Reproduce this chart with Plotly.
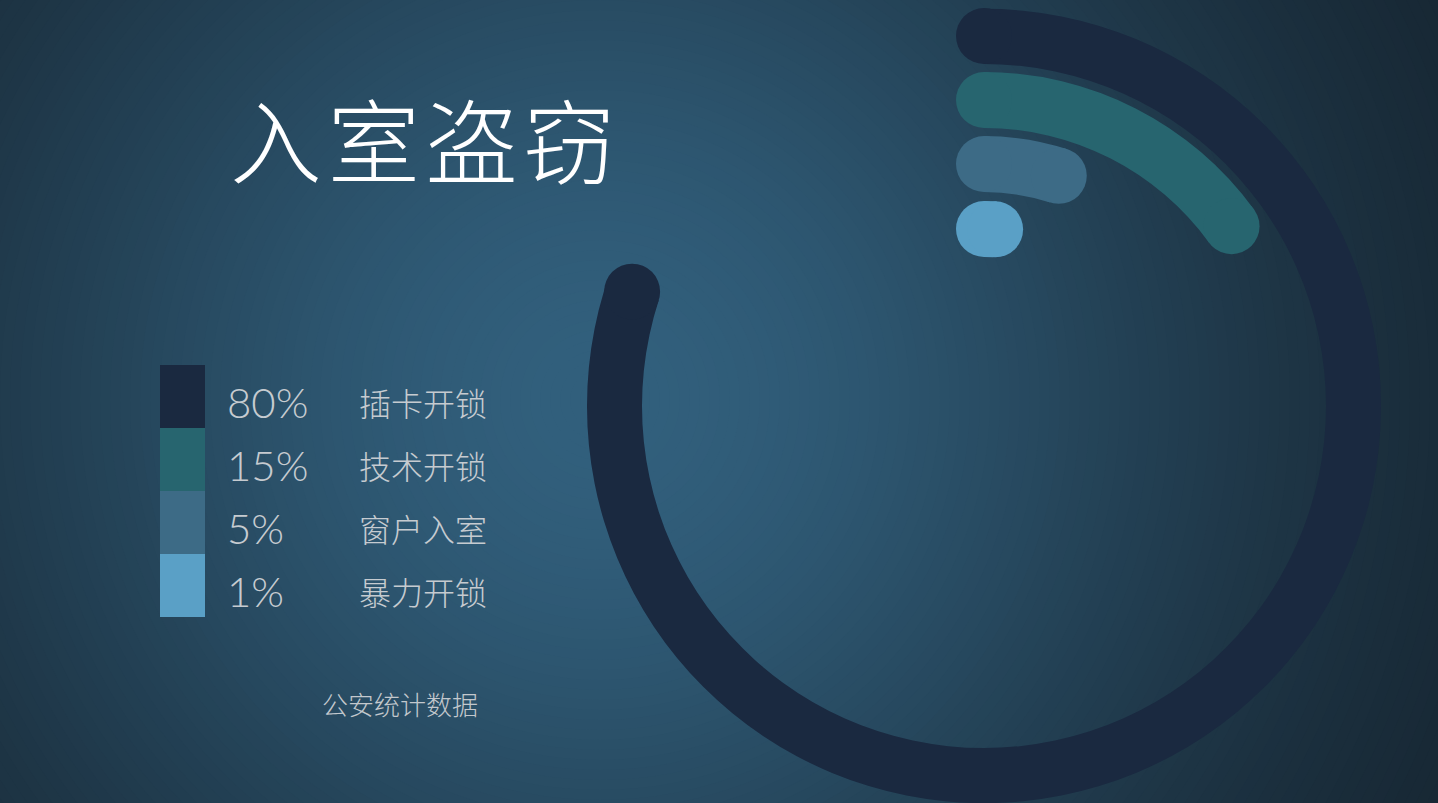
import numpy as np
import plotly.graph_objects as go

# data
percent = [80, 15, 5, 1]
pct_labels = ["80%", "15%", "5%", "1%"]
categories = ["插卡开锁", "技术开锁", "窗户入室", "暴力开锁"]
colors = ["#1a2940", "#27656f", "#3d6b86", "#5aa0c6"]
title = "入\u200a室\u200a盗\u200a窃"
source = "公安统计数据"

W, H = 1438, 803
cx, cy, R = 984, 406, 397          # ring centre / polar radius in px
ring_mid = [370, 306, 242, 177]     # centre line of each ring, px
ring_w = 56


def px(x):
    return x / W


def py(y):
    return 1 - y / H


fig = go.Figure()

for p, c, rm in zip(percent, colors, ring_mid):
    ang = p * 3.6
    fig.add_trace(go.Barpolar(r=[ring_w], base=[rm - ring_w / 2], theta=[ang / 2],
                              width=[ang], marker=dict(color=c, line=dict(width=0)),
                              hoverinfo="skip", showlegend=False))
    # round caps
    fig.add_trace(go.Scatterpolar(r=[rm, rm], theta=[0, ang], mode="markers",
                                  marker=dict(size=ring_w, color=c, line=dict(width=0)),
                                  cliponaxis=False, hoverinfo="skip", showlegend=False))

# background vignette: opaque circles from outside in
dark = np.array([20, 32, 42])
light = np.array([50, 96, 125])
bx, by, sigma = 600, 400, 660
shapes = []
for rad in np.arange(1100, 0, -10):
    f = np.exp(-(rad / sigma) ** 2)
    col = dark + (light - dark) * f
    shapes.append(dict(type="circle", xref="paper", yref="paper", layer="below",
                       x0=px(bx - rad), x1=px(bx + rad), y0=py(by + rad), y1=py(by - rad),
                       fillcolor="rgb(%d,%d,%d)" % tuple(col), line=dict(width=0)))

# legend swatches
row_h = 63
top = 365
for i, c in enumerate(colors):
    shapes.append(dict(type="rect", xref="paper", yref="paper",
                       x0=px(160), x1=px(205), y0=py(top + (i + 1) * row_h), y1=py(top + i * row_h),
                       fillcolor=c, line=dict(width=0)))

annotations = [dict(text=title, x=px(228), y=py(136), xref="paper", yref="paper",
                    xanchor="left", yanchor="middle", showarrow=False,
                    font=dict(family="Noto Sans CJK SC", size=92, color="#ffffff", weight=300))]
for i, (pl, cat) in enumerate(zip(pct_labels, categories)):
    yc = top + i * row_h + row_h / 2 + 5
    annotations.append(dict(text=pl, x=px(225), y=py(yc), xref="paper", yref="paper",
                            xanchor="left", yanchor="middle", showarrow=False,
                            font=dict(family="Lato", size=42, color="#c6cbd0", weight=300)))
    annotations.append(dict(text=cat, x=px(357), y=py(yc), xref="paper", yref="paper",
                            xanchor="left", yanchor="middle", showarrow=False,
                            font=dict(family="Noto Sans CJK SC", size=32, color="#c6cbd0", weight=300)))
annotations.append(dict(text=source, x=px(320), y=py(703), xref="paper", yref="paper",
                        xanchor="left", yanchor="middle", showarrow=False,
                        font=dict(family="Noto Sans CJK SC", size=26, color="#c3c8cd", weight=300)))

fig.update_layout(
    width=W, height=H,
    margin=dict(l=0, r=0, t=0, b=0),
    paper_bgcolor="rgb(20,32,42)",
    plot_bgcolor="rgba(0,0,0,0)",
    shapes=shapes,
    annotations=annotations,
    polar=dict(
        domain=dict(x=[px(cx - R), px(cx + R)], y=[py(cy + R), py(cy - R)]),
        bgcolor="rgba(0,0,0,0)",
        barmode="overlay",
        radialaxis=dict(visible=False, range=[0, R]),
        angularaxis=dict(visible=False, rotation=90, direction="clockwise"),
    ),
)

fig.write_html("out.html", config=dict(displayModeBar=False),
               post_script="document.body.style.margin='0';")
